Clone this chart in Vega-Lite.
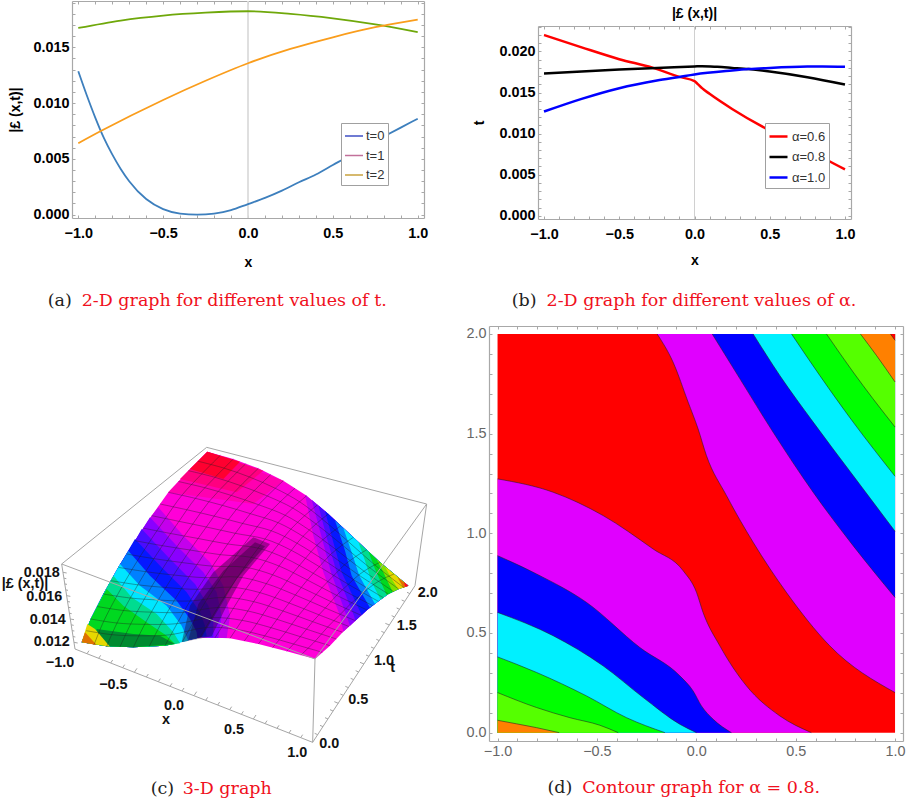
{
"$schema":"https://vega.github.io/schema/vega-lite/v6.json",
"padding":{"left":1,"top":-6,"right":0,"bottom":0},
"background":"white",
"config":{
 "font":"Liberation Sans",
 "view":{"stroke":null},
 "axis":{"grid":false,"domainColor":"#a8a8a8","tickColor":"#a8a8a8","domainWidth":1.2,"tickWidth":1,"labelFontSize":14.4,"labelFontWeight":"bold","labelColor":"#000","labelFont":"Liberation Sans","labelOverlap":false,"labelFlush":false,"labelBound":false,"titleFontSize":14,"titleFontWeight":"bold","titleColor":"#000","titleFont":"Liberation Sans"}
},
"bounds":"flush",
"spacing":325,
"resolve":{"scale":{"color":"independent","stroke":"independent","fill":"independent"},"legend":{"color":"independent","stroke":"independent","fill":"independent"}},
"vconcat":[
{"hconcat":[
{"width":352,"height":217,
 "resolve":{"axis":{"x":"independent","y":"independent"}},
 "encoding":{"x":{"field":"x","type":"quantitative","scale":{"domain":[-1.037,1.037],"nice":false,"zero":false},"axis":null},"y":{"field":"y","type":"quantitative","scale":{"domain":[-0.0003,0.01915],"nice":false,"zero":false},"axis":null}},
 "layer":[
 {"data":{"values":[]},"mark":"line","encoding":{
  "x":{"field":"x","type":"quantitative","scale":{"domain":[-1.037,1.037],"nice":false,"zero":false},"axis":{"orient":"bottom","title":"x","titlePadding":16,"labelPadding":11,"values":[-1,-0.9,-0.8,-0.7,-0.6,-0.5,-0.4,-0.3,-0.2,-0.1,0,0.1,0.2,0.3,0.4,0.5,0.6,0.7,0.8,0.9,1],"labelExpr":"abs(datum.value*2-round(datum.value*2))<1e-6 ? format(datum.value,'.1f') : ''","tickSize":-3}},
  "y":{"field":"y","type":"quantitative","scale":{"domain":[-0.0003,0.01915],"nice":false,"zero":false},"axis":{"orient":"left","title":"|£ (x,t)|","titlePadding":10,"labelPadding":6,"values":[0,0.001,0.002,0.003,0.004,0.005,0.006,0.007,0.008,0.009,0.01,0.011,0.012,0.013,0.014,0.015,0.016,0.017,0.018,0.019],"labelExpr":"abs(datum.value*200-round(datum.value*200))<1e-6 ? format(datum.value,'.3f') : ''","tickSize":-3}}}},
 {"data":{"values":[]},"mark":"line","encoding":{
  "x":{"field":"x","type":"quantitative","scale":{"domain":[-1.037,1.037],"nice":false,"zero":false},"axis":{"orient":"top","title":null,"labels":false,"values":[-1,-0.9,-0.8,-0.7,-0.6,-0.5,-0.4,-0.3,-0.2,-0.1,0,0.1,0.2,0.3,0.4,0.5,0.6,0.7,0.8,0.9,1],"tickSize":-3}},
  "y":{"field":"y","type":"quantitative","scale":{"domain":[-0.0003,0.01915],"nice":false,"zero":false},"axis":{"orient":"right","title":null,"labels":false,"values":[0,0.001,0.002,0.003,0.004,0.005,0.006,0.007,0.008,0.009,0.01,0.011,0.012,0.013,0.014,0.015,0.016,0.017,0.018,0.019],"tickSize":-3}}}},
 {"data":{"values":[{"x":0,"y":-0.0003,"y2":0.01915}]},"mark":{"type":"rule","color":"#dcdcdc","strokeWidth":1.8},"encoding":{"y2":{"field":"y2"}}},
 {"data":{"values":[
  {"s":"c0","x":-1,"y":0.01285},{"s":"c0","x":-0.95,"y":0.0107},{"s":"c0","x":-0.9,"y":0.0087},{"s":"c0","x":-0.85,"y":0.0069},{"s":"c0","x":-0.8,"y":0.0054},{"s":"c0","x":-0.75,"y":0.0041},{"s":"c0","x":-0.7,"y":0.003},{"s":"c0","x":-0.6,"y":0.0014},{"s":"c0","x":-0.5,"y":0.0005},{"s":"c0","x":-0.4,"y":0.0001},{"s":"c0","x":-0.3,"y":0},{"s":"c0","x":-0.2,"y":0.0001},{"s":"c0","x":-0.1,"y":0.0004},{"s":"c0","x":0,"y":0.00095},{"s":"c0","x":0.1,"y":0.0015},{"s":"c0","x":0.2,"y":0.00215},{"s":"c0","x":0.3,"y":0.0029},{"s":"c0","x":0.4,"y":0.0036},{"s":"c0","x":0.5,"y":0.00445},{"s":"c0","x":0.6,"y":0.0053},{"s":"c0","x":0.7,"y":0.0062},{"s":"c0","x":0.8,"y":0.007},{"s":"c0","x":0.9,"y":0.0078},{"s":"c0","x":1,"y":0.0086},
  {"s":"c1","x":-1,"y":0.01673},{"s":"c1","x":-0.75,"y":0.0174},{"s":"c1","x":-0.5,"y":0.01784},{"s":"c1","x":-0.25,"y":0.0181},{"s":"c1","x":0,"y":0.01823},{"s":"c1","x":0.25,"y":0.018},{"s":"c1","x":0.5,"y":0.0176},{"s":"c1","x":0.75,"y":0.01706},{"s":"c1","x":1,"y":0.01637},
  {"s":"c2","x":-1,"y":0.0064},{"s":"c2","x":-0.87,"y":0.00747},{"s":"c2","x":-0.5,"y":0.01028},{"s":"c2","x":-0.25,"y":0.012},{"s":"c2","x":0,"y":0.01357},{"s":"c2","x":0.25,"y":0.01485},{"s":"c2","x":0.5,"y":0.0159},{"s":"c2","x":0.75,"y":0.0168},{"s":"c2","x":0.82,"y":0.017},{"s":"c2","x":1,"y":0.01748}
 ]},"mark":{"type":"line","strokeWidth":1.8,"interpolate":"monotone"},"encoding":{"stroke":{"field":"s","type":"nominal","scale":{"domain":["c0","c1","c2"],"range":["#3d7fbd","#6fa80a","#fa9d1c"]},"legend":null}}},
 {"data":{"values":[]},"mark":{"type":"line"},"encoding":{"color":{"field":"s","type":"nominal","scale":{"domain":["t=0","t=1","t=2"],"range":["#3f4fc4","#c2709a","#c9a23e"]},"legend":{"title":null,"orient":"none","legendX":269,"legendY":122,"direction":"vertical","symbolType":"stroke","symbolSize":324,"symbolStrokeWidth":1.5,"labelFontSize":13,"labelColor":"#333","labelOffset":2,"rowPadding":2.5,"padding":3,"fillColor":"white","strokeColor":"#a0a0a0"}}}},
 {"data":{"values":[{"x":-1.18,"y":-0.00773,"text":"(a)"}]},"mark":{"type":"text","align":"left","font":"DejaVu Serif","fontSize":17.5,"color":"#222"},"encoding":{"text":{"field":"text"}}},
 {"data":{"values":[{"x":-0.98,"y":-0.00773,"text":"2-D graph for different values of t."}]},"mark":{"type":"text","align":"left","font":"DejaVu Serif","fontSize":17.5,"color":"#f01020"},"encoding":{"text":{"field":"text"}}}
 ]},
{"bounds":"flush","spacing":24,
 "resolve":{"scale":{"color":"independent","stroke":"independent","fill":"independent"},"legend":{"color":"independent","stroke":"independent","fill":"independent"}},
 "vconcat":[
{"width":1,"height":1,"data":{"values":[{"a":1}]},"mark":{"type":"text","text":" "}},
{"width":313,"height":193,
 "title":{"text":"|£ (x,t)|","fontSize":14,"fontWeight":"bold","color":"#000","offset":-2,"font":"Liberation Sans"},
 "resolve":{"axis":{"x":"independent","y":"independent"}},
 "encoding":{"x":{"field":"x","type":"quantitative","scale":{"domain":[-1.04,1.04],"nice":false,"zero":false},"axis":null},"y":{"field":"y","type":"quantitative","scale":{"domain":[-0.0004,0.0231],"nice":false,"zero":false},"axis":null}},
 "layer":[
 {"data":{"values":[]},"mark":"line","encoding":{
  "x":{"field":"x","type":"quantitative","scale":{"domain":[-1.04,1.04],"nice":false,"zero":false},"axis":{"orient":"bottom","title":"x","titlePadding":13,"labelPadding":11,"values":[-1,-0.9,-0.8,-0.7,-0.6,-0.5,-0.4,-0.3,-0.2,-0.1,0,0.1,0.2,0.3,0.4,0.5,0.6,0.7,0.8,0.9,1],"labelExpr":"abs(datum.value*2-round(datum.value*2))<1e-6 ? format(datum.value,'.1f') : ''","tickSize":-3}},
  "y":{"field":"y","type":"quantitative","scale":{"domain":[-0.0004,0.0231],"nice":false,"zero":false},"axis":{"orient":"left","title":"t","titlePadding":12,"labelPadding":6,"values":[0,0.001,0.002,0.003,0.004,0.005,0.006,0.007,0.008,0.009,0.01,0.011,0.012,0.013,0.014,0.015,0.016,0.017,0.018,0.019,0.02,0.021,0.022,0.023],"labelExpr":"abs(datum.value*200-round(datum.value*200))<1e-6 ? format(datum.value,'.3f') : ''","tickSize":-3}}}},
 {"data":{"values":[]},"mark":"line","encoding":{
  "x":{"field":"x","type":"quantitative","scale":{"domain":[-1.04,1.04],"nice":false,"zero":false},"axis":{"orient":"top","title":null,"labels":false,"values":[-1,-0.9,-0.8,-0.7,-0.6,-0.5,-0.4,-0.3,-0.2,-0.1,0,0.1,0.2,0.3,0.4,0.5,0.6,0.7,0.8,0.9,1],"tickSize":-3}},
  "y":{"field":"y","type":"quantitative","scale":{"domain":[-0.0004,0.0231],"nice":false,"zero":false},"axis":{"orient":"right","title":null,"labels":false,"values":[0,0.001,0.002,0.003,0.004,0.005,0.006,0.007,0.008,0.009,0.01,0.011,0.012,0.013,0.014,0.015,0.016,0.017,0.018,0.019,0.02,0.021,0.022,0.023],"tickSize":-3}}}},
 {"data":{"values":[{"x":0,"y":-0.0004,"y2":0.0231}]},"mark":{"type":"rule","color":"#d0d0d0","strokeWidth":1},"encoding":{"y2":{"field":"y2"}}},
 {"data":{"values":[
  {"s":"a6","x":-1,"y":0.022},{"s":"a6","x":-0.75,"y":0.0205},{"s":"a6","x":-0.5,"y":0.01906},{"s":"a6","x":-0.275,"y":0.018},{"s":"a6","x":-0.1,"y":0.0169},{"s":"a6","x":0,"y":0.01638},{"s":"a6","x":0.02,"y":0.01606},{"s":"a6","x":0.05,"y":0.01553},{"s":"a6","x":0.1,"y":0.01484},{"s":"a6","x":0.25,"y":0.013},{"s":"a6","x":0.5,"y":0.01037},{"s":"a6","x":0.75,"y":0.0082},{"s":"a6","x":0.86,"y":0.007},{"s":"a6","x":1,"y":0.00565},
  {"s":"a8","x":-1,"y":0.01732},{"s":"a8","x":-0.5,"y":0.0178},{"s":"a8","x":-0.25,"y":0.018},{"s":"a8","x":0,"y":0.01817},{"s":"a8","x":0.05,"y":0.01821},{"s":"a8","x":0.15,"y":0.01813},{"s":"a8","x":0.25,"y":0.018},{"s":"a8","x":0.36,"y":0.01785},{"s":"a8","x":0.5,"y":0.01756},{"s":"a8","x":0.75,"y":0.01687},{"s":"a8","x":1,"y":0.01598},
  {"s":"a10","x":-1,"y":0.01268},{"s":"a10","x":-0.75,"y":0.01423},{"s":"a10","x":-0.5,"y":0.01553},{"s":"a10","x":-0.25,"y":0.01646},{"s":"a10","x":-0.1,"y":0.0169},{"s":"a10","x":0,"y":0.0172},{"s":"a10","x":0.25,"y":0.01768},{"s":"a10","x":0.36,"y":0.01785},{"s":"a10","x":0.5,"y":0.018},{"s":"a10","x":0.75,"y":0.01817},{"s":"a10","x":0.85,"y":0.01818},{"s":"a10","x":1,"y":0.01813}
 ]},"mark":{"type":"line","strokeWidth":2.5,"interpolate":"monotone"},"encoding":{"stroke":{"field":"s","type":"nominal","scale":{"domain":["a6","a8","a10"],"range":["#ff0000","#000000","#0000ff"]},"legend":null}}},
 {"data":{"values":[]},"mark":{"type":"line"},"encoding":{"color":{"field":"s","type":"nominal","scale":{"domain":["α=0.6","α=0.8","α=1.0"],"range":["#ff0000","#000000","#0000ff"]},"legend":{"title":null,"orient":"none","legendX":227,"legendY":97,"direction":"vertical","symbolType":"stroke","symbolSize":324,"symbolStrokeWidth":2.5,"labelFontSize":13,"labelColor":"#333","labelOffset":3,"rowPadding":2.5,"padding":3,"fillColor":"white","strokeColor":"#a0a0a0"}}}},
 {"data":{"values":[{"x":-1.215,"y":-0.0104,"text":"(b)"}]},"mark":{"type":"text","align":"left","font":"DejaVu Serif","fontSize":17.5,"color":"#222"},"encoding":{"text":{"field":"text"}}},
 {"data":{"values":[{"x":-0.983,"y":-0.0104,"text":"2-D graph for different values of α."}]},"mark":{"type":"text","align":"left","font":"DejaVu Serif","fontSize":17.5,"color":"#f01020"},"encoding":{"text":{"field":"text"}}}
 ]}
]}
],"spacing":114,"bounds":"flush",
 "resolve":{"scale":{"color":"independent","stroke":"independent","fill":"independent"},"legend":{"color":"independent","stroke":"independent","fill":"independent"}}},
{"hconcat":[
{"width":352,"height":475,
 "encoding":{"x":{"field":"u","type":"quantitative","scale":{"domain":[216,1272],"nice":false,"zero":false},"axis":null},"y":{"field":"v","type":"quantitative","scale":{"domain":[1116,-309],"nice":false,"zero":false},"axis":null}},
 "layer":[
 {"data":{"values":[
  {"p":"s","b":"mag","u":245,"v":640},{"p":"s","b":"mag","u":320,"v":652},{"p":"s","b":"mag","u":400,"v":655},{"p":"s","b":"mag","u":495,"v":650},{"p":"s","b":"mag","u":600,"v":625},{"p":"s","b":"mag","u":690,"v":628},{"p":"s","b":"mag","u":775,"v":645},{"p":"s","b":"mag","u":860,"v":667},{"p":"s","b":"mag","u":945,"v":690},{"p":"s","b":"mag","u":990,"v":650},{"p":"s","b":"mag","u":1028,"v":610},{"p":"s","b":"mag","u":1066,"v":575},{"p":"s","b":"mag","u":1101,"v":543},{"p":"s","b":"mag","u":1135,"v":517},{"p":"s","b":"mag","u":1165,"v":495},{"p":"s","b":"mag","u":1196,"v":480},{"p":"s","b":"mag","u":1225,"v":470},{"p":"s","b":"mag","u":1140,"v":400},{"p":"s","b":"mag","u":1060,"v":325},{"p":"s","b":"mag","u":985,"v":255},{"p":"s","b":"mag","u":920,"v":200},{"p":"s","b":"mag","u":850,"v":155},{"p":"s","b":"mag","u":775,"v":118},{"p":"s","b":"mag","u":700,"v":90},{"p":"s","b":"mag","u":622,"v":68},{"p":"s","b":"mag","u":565,"v":125},{"p":"s","b":"mag","u":505,"v":190},{"p":"s","b":"mag","u":455,"v":260},{"p":"s","b":"mag","u":405,"v":335},{"p":"s","b":"mag","u":355,"v":415},{"p":"s","b":"mag","u":310,"v":495},{"p":"s","b":"mag","u":272,"v":570},
  {"p":"r0","b":"rose0","u":622,"v":68},{"p":"r0","b":"rose0","u":850,"v":155},{"p":"r0","b":"rose0","u":760,"v":225},{"p":"r0","b":"rose0","u":505,"v":190},
  {"p":"r1","b":"rose","u":622,"v":68},{"p":"r1","b":"rose","u":790,"v":125},{"p":"r1","b":"rose","u":710,"v":190},{"p":"r1","b":"rose","u":540,"v":150},
  {"p":"r2","b":"red","u":622,"v":68},{"p":"r2","b":"red","u":720,"v":98},{"p":"r2","b":"red","u":670,"v":150},{"p":"r2","b":"red","u":570,"v":120},
  {"p":"l0","b":"mp","u":475,"v":235},{"p":"l0","b":"mp","u":550,"v":320},{"p":"l0","b":"mp","u":630,"v":400},{"p":"l0","b":"mp","u":670,"v":470},{"p":"l0","b":"mp","u":690,"v":560},{"p":"l0","b":"mp","u":680,"v":627},{"p":"l0","b":"mp","u":600,"v":625},{"p":"l0","b":"mp","u":495,"v":650},{"p":"l0","b":"mp","u":400,"v":655},{"p":"l0","b":"mp","u":320,"v":652},{"p":"l0","b":"mp","u":245,"v":640},{"p":"l0","b":"mp","u":272,"v":570},{"p":"l0","b":"mp","u":310,"v":495},{"p":"l0","b":"mp","u":355,"v":415},{"p":"l0","b":"mp","u":405,"v":335},{"p":"l0","b":"mp","u":455,"v":260},
  {"p":"l1","b":"pur","u":450,"v":265},{"p":"l1","b":"pur","u":530,"v":350},{"p":"l1","b":"pur","u":610,"v":430},{"p":"l1","b":"pur","u":650,"v":490},{"p":"l1","b":"pur","u":665,"v":560},{"p":"l1","b":"pur","u":655,"v":627},{"p":"l1","b":"pur","u":600,"v":625},{"p":"l1","b":"pur","u":495,"v":650},{"p":"l1","b":"pur","u":400,"v":655},{"p":"l1","b":"pur","u":320,"v":652},{"p":"l1","b":"pur","u":245,"v":640},{"p":"l1","b":"pur","u":272,"v":570},{"p":"l1","b":"pur","u":310,"v":495},{"p":"l1","b":"pur","u":355,"v":415},{"p":"l1","b":"pur","u":405,"v":335},
  {"p":"l1b","b":"pb","u":425,"v":300},{"p":"l1b","b":"pb","u":505,"v":385},{"p":"l1b","b":"pb","u":585,"v":465},{"p":"l1b","b":"pb","u":625,"v":530},{"p":"l1b","b":"pb","u":640,"v":580},{"p":"l1b","b":"pb","u":640,"v":625},{"p":"l1b","b":"pb","u":600,"v":625},{"p":"l1b","b":"pb","u":495,"v":650},{"p":"l1b","b":"pb","u":400,"v":655},{"p":"l1b","b":"pb","u":320,"v":652},{"p":"l1b","b":"pb","u":245,"v":640},{"p":"l1b","b":"pb","u":272,"v":570},{"p":"l1b","b":"pb","u":310,"v":495},{"p":"l1b","b":"pb","u":355,"v":415},{"p":"l1b","b":"pb","u":405,"v":335},
  {"p":"l2","b":"blu","u":405,"v":330},{"p":"l2","b":"blu","u":480,"v":410},{"p":"l2","b":"blu","u":560,"v":490},{"p":"l2","b":"blu","u":600,"v":550},{"p":"l2","b":"blu","u":615,"v":590},{"p":"l2","b":"blu","u":620,"v":622},{"p":"l2","b":"blu","u":600,"v":625},{"p":"l2","b":"blu","u":495,"v":650},{"p":"l2","b":"blu","u":400,"v":655},{"p":"l2","b":"blu","u":320,"v":652},{"p":"l2","b":"blu","u":245,"v":640},{"p":"l2","b":"blu","u":272,"v":570},{"p":"l2","b":"blu","u":310,"v":495},{"p":"l2","b":"blu","u":355,"v":415},
  {"p":"l2b","b":"bc","u":385,"v":365},{"p":"l2b","b":"bc","u":450,"v":440},{"p":"l2b","b":"bc","u":530,"v":515},{"p":"l2b","b":"bc","u":570,"v":570},{"p":"l2b","b":"bc","u":590,"v":610},{"p":"l2b","b":"bc","u":592,"v":628},{"p":"l2b","b":"bc","u":495,"v":650},{"p":"l2b","b":"bc","u":400,"v":655},{"p":"l2b","b":"bc","u":320,"v":652},{"p":"l2b","b":"bc","u":245,"v":640},{"p":"l2b","b":"bc","u":272,"v":570},{"p":"l2b","b":"bc","u":310,"v":495},{"p":"l2b","b":"bc","u":355,"v":415},
  {"p":"l3","b":"cya","u":360,"v":405},{"p":"l3","b":"cya","u":420,"v":470},{"p":"l3","b":"cya","u":500,"v":530},{"p":"l3","b":"cya","u":545,"v":590},{"p":"l3","b":"cya","u":565,"v":635},{"p":"l3","b":"cya","u":495,"v":650},{"p":"l3","b":"cya","u":400,"v":655},{"p":"l3","b":"cya","u":320,"v":652},{"p":"l3","b":"cya","u":245,"v":640},{"p":"l3","b":"cya","u":272,"v":570},{"p":"l3","b":"cya","u":310,"v":495},
  {"p":"l3b","b":"cg","u":340,"v":440},{"p":"l3b","b":"cg","u":395,"v":505},{"p":"l3b","b":"cg","u":470,"v":555},{"p":"l3b","b":"cg","u":520,"v":610},{"p":"l3b","b":"cg","u":540,"v":643},{"p":"l3b","b":"cg","u":495,"v":650},{"p":"l3b","b":"cg","u":400,"v":655},{"p":"l3b","b":"cg","u":320,"v":652},{"p":"l3b","b":"cg","u":245,"v":640},{"p":"l3b","b":"cg","u":272,"v":570},{"p":"l3b","b":"cg","u":310,"v":495},
  {"p":"l4","b":"gre","u":320,"v":480},{"p":"l4","b":"gre","u":370,"v":530},{"p":"l4","b":"gre","u":440,"v":580},{"p":"l4","b":"gre","u":500,"v":620},{"p":"l4","b":"gre","u":525,"v":645},{"p":"l4","b":"gre","u":495,"v":650},{"p":"l4","b":"gre","u":400,"v":655},{"p":"l4","b":"gre","u":320,"v":652},{"p":"l4","b":"gre","u":245,"v":640},{"p":"l4","b":"gre","u":272,"v":570},
  {"p":"l5","b":"dkg","u":290,"v":600},{"p":"l5","b":"dkg","u":400,"v":615},{"p":"l5","b":"dkg","u":480,"v":620},{"p":"l5","b":"dkg","u":525,"v":645},{"p":"l5","b":"dkg","u":400,"v":655},{"p":"l5","b":"dkg","u":320,"v":652},{"p":"l5","b":"dkg","u":290,"v":645},
  {"p":"l6","b":"yel","u":262,"v":585},{"p":"l6","b":"yel","u":285,"v":600},{"p":"l6","b":"yel","u":330,"v":653},{"p":"l6","b":"yel","u":245,"v":640},
  {"p":"l7","b":"ora","u":255,"v":610},{"p":"l7","b":"ora","u":290,"v":648},{"p":"l7","b":"ora","u":245,"v":640},
  {"p":"c0","b":"mp","u":915,"v":197},{"p":"c0","b":"mp","u":940,"v":320},{"p":"c0","b":"mp","u":970,"v":430},{"p":"c0","b":"mp","u":1020,"v":560},{"p":"c0","b":"mp","u":1030,"v":608},{"p":"c0","b":"mp","u":1066,"v":575},{"p":"c0","b":"mp","u":1101,"v":543},{"p":"c0","b":"mp","u":1135,"v":517},{"p":"c0","b":"mp","u":1165,"v":495},{"p":"c0","b":"mp","u":1196,"v":480},{"p":"c0","b":"mp","u":1225,"v":470},{"p":"c0","b":"mp","u":1140,"v":400},{"p":"c0","b":"mp","u":1060,"v":325},{"p":"c0","b":"mp","u":985,"v":255},
  {"p":"c1","b":"pur","u":935,"v":212},{"p":"c1","b":"pur","u":965,"v":325},{"p":"c1","b":"pur","u":993,"v":430},{"p":"c1","b":"pur","u":1050,"v":590},{"p":"c1","b":"pur","u":1066,"v":575},{"p":"c1","b":"pur","u":1101,"v":543},{"p":"c1","b":"pur","u":1135,"v":517},{"p":"c1","b":"pur","u":1165,"v":495},{"p":"c1","b":"pur","u":1196,"v":480},{"p":"c1","b":"pur","u":1225,"v":470},{"p":"c1","b":"pur","u":1140,"v":400},{"p":"c1","b":"pur","u":1060,"v":325},{"p":"c1","b":"pur","u":985,"v":255},
  {"p":"c1b","b":"pb","u":955,"v":229},{"p":"c1b","b":"pb","u":982,"v":332},{"p":"c1b","b":"pb","u":1010,"v":430},{"p":"c1b","b":"pb","u":1062,"v":560},{"p":"c1b","b":"pb","u":1066,"v":575},{"p":"c1b","b":"pb","u":1101,"v":543},{"p":"c1b","b":"pb","u":1135,"v":517},{"p":"c1b","b":"pb","u":1165,"v":495},{"p":"c1b","b":"pb","u":1196,"v":480},{"p":"c1b","b":"pb","u":1225,"v":470},{"p":"c1b","b":"pb","u":1140,"v":400},{"p":"c1b","b":"pb","u":1060,"v":325},{"p":"c1b","b":"pb","u":985,"v":255},
  {"p":"c2","b":"blu","u":975,"v":246},{"p":"c2","b":"blu","u":1000,"v":340},{"p":"c2","b":"blu","u":1025,"v":430},{"p":"c2","b":"blu","u":1085,"v":558},{"p":"c2","b":"blu","u":1101,"v":543},{"p":"c2","b":"blu","u":1135,"v":517},{"p":"c2","b":"blu","u":1165,"v":495},{"p":"c2","b":"blu","u":1196,"v":480},{"p":"c2","b":"blu","u":1225,"v":470},{"p":"c2","b":"blu","u":1140,"v":400},{"p":"c2","b":"blu","u":1060,"v":325},{"p":"c2","b":"blu","u":985,"v":255},
  {"p":"c2b","b":"bc","u":1005,"v":274},{"p":"c2b","b":"bc","u":1035,"v":365},{"p":"c2b","b":"bc","u":1055,"v":440},{"p":"c2b","b":"bc","u":1110,"v":536},{"p":"c2b","b":"bc","u":1135,"v":517},{"p":"c2b","b":"bc","u":1165,"v":495},{"p":"c2b","b":"bc","u":1196,"v":480},{"p":"c2b","b":"bc","u":1225,"v":470},{"p":"c2b","b":"bc","u":1140,"v":400},{"p":"c2b","b":"bc","u":1060,"v":325},
  {"p":"c3","b":"cya","u":1030,"v":297},{"p":"c3","b":"cya","u":1055,"v":370},{"p":"c3","b":"cya","u":1078,"v":440},{"p":"c3","b":"cya","u":1125,"v":525},{"p":"c3","b":"cya","u":1135,"v":517},{"p":"c3","b":"cya","u":1165,"v":495},{"p":"c3","b":"cya","u":1196,"v":480},{"p":"c3","b":"cya","u":1225,"v":470},{"p":"c3","b":"cya","u":1140,"v":400},{"p":"c3","b":"cya","u":1060,"v":325},
  {"p":"c3b","b":"cg","u":1075,"v":339},{"p":"c3b","b":"cg","u":1095,"v":395},{"p":"c3b","b":"cg","u":1115,"v":460},{"p":"c3b","b":"cg","u":1142,"v":512},{"p":"c3b","b":"cg","u":1165,"v":495},{"p":"c3b","b":"cg","u":1196,"v":480},{"p":"c3b","b":"cg","u":1225,"v":470},{"p":"c3b","b":"cg","u":1140,"v":400},
  {"p":"c4","b":"gre","u":1105,"v":367},{"p":"c4","b":"gre","u":1125,"v":420},{"p":"c4","b":"gre","u":1160,"v":498},{"p":"c4","b":"gre","u":1196,"v":480},{"p":"c4","b":"gre","u":1225,"v":470},{"p":"c4","b":"gre","u":1140,"v":400},
  {"p":"c4b","b":"yg","u":1130,"v":391},{"p":"c4b","b":"yg","u":1150,"v":430},{"p":"c4b","b":"yg","u":1178,"v":489},{"p":"c4b","b":"yg","u":1196,"v":480},{"p":"c4b","b":"yg","u":1225,"v":470},{"p":"c4b","b":"yg","u":1140,"v":400},
  {"p":"c5","b":"yel","u":1155,"v":413},{"p":"c5","b":"yel","u":1175,"v":450},{"p":"c5","b":"yel","u":1195,"v":481},{"p":"c5","b":"yel","u":1225,"v":470},
  {"p":"c6","b":"ora","u":1192,"v":444},{"p":"c6","b":"ora","u":1210,"v":476},{"p":"c6","b":"ora","u":1225,"v":470},
  {"p":"c7","b":"red","u":1212,"v":459},{"p":"c7","b":"red","u":1216,"v":474},{"p":"c7","b":"red","u":1225,"v":470}
 ]},"mark":{"type":"line","stroke":null,"strokeWidth":0},"encoding":{"order":{"value":null},"detail":{"field":"p"},"fill":{"field":"b","type":"nominal","legend":null,"scale":{"domain":["mag","rose0","rose","red","mp","pur","pb","blu","bc","cya","cg","gre","dkg","yg","yel","ora"],"range":["#ff00d8","#ff00b0","#ff0080","#ff0030","#c400ec","#8a00ff","#4a0cff","#0618ff","#0080ff","#00e6ff","#00dc90","#00d820","#008a30","#80e000","#e6d800","#e07000"]}}}},
 {"data":{"values":[
  {"p":"d1","u":760,"v":325},{"p":"d1","u":810,"v":345},{"p":"d1","u":730,"v":440},{"p":"d1","u":680,"v":530},{"p":"d1","u":635,"v":622},{"p":"d1","u":545,"v":640},{"p":"d1","u":570,"v":530},{"p":"d1","u":640,"v":430},
  {"p":"d2","u":765,"v":340},{"p":"d2","u":795,"v":352},{"p":"d2","u":710,"v":450},{"p":"d2","u":650,"v":550},{"p":"d2","u":605,"v":625},{"p":"d2","u":565,"v":632},{"p":"d2","u":595,"v":525},{"p":"d2","u":670,"v":425}
 ]},"mark":{"type":"line","stroke":null,"strokeWidth":0,"fill":"#200030","fillOpacity":0.4},"encoding":{"order":{"value":null},"detail":{"field":"p"}}},
 {"data":{"values":[
  {"m":"r1","u":258.5,"v":605},{"m":"r1","u":335.5,"v":617},{"m":"r1","u":417,"v":620.5},{"m":"r1","u":513,"v":617},{"m":"r1","u":617.5,"v":595.5},{"m":"r1","u":708,"v":601},{"m":"r1","u":794,"v":620.5},{"m":"r1","u":880.5,"v":645},{"m":"r1","u":967.5,"v":670},
  {"m":"r2","u":272,"v":570},{"m":"r2","u":351,"v":582},{"m":"r2","u":434,"v":586},{"m":"r2","u":531,"v":584},{"m":"r2","u":635,"v":566},{"m":"r2","u":726,"v":574},{"m":"r2","u":813,"v":596},{"m":"r2","u":901,"v":623},{"m":"r2","u":990,"v":650},
  {"m":"r3","u":291,"v":532.5},{"m":"r3","u":371,"v":544.5},{"m":"r3","u":454.5,"v":549.5},{"m":"r3","u":550.5,"v":550},{"m":"r3","u":653.5,"v":535.5},{"m":"r3","u":743.5,"v":546},{"m":"r3","u":831,"v":571},{"m":"r3","u":919.5,"v":600.5},{"m":"r3","u":1009,"v":630},
  {"m":"r4","u":310,"v":495},{"m":"r4","u":391,"v":507},{"m":"r4","u":475,"v":513},{"m":"r4","u":570,"v":516},{"m":"r4","u":672,"v":505},{"m":"r4","u":761,"v":518},{"m":"r4","u":849,"v":546},{"m":"r4","u":938,"v":578},{"m":"r4","u":1028,"v":610},
  {"m":"r5","u":332.5,"v":455},{"m":"r5","u":414,"v":467.5},{"m":"r5","u":498,"v":475.5},{"m":"r5","u":592.5,"v":481},{"m":"r5","u":692.5,"v":474.5},{"m":"r5","u":780,"v":491},{"m":"r5","u":867.5,"v":522},{"m":"r5","u":957,"v":557.5},{"m":"r5","u":1047,"v":592.5},
  {"m":"r6","u":355,"v":415},{"m":"r6","u":437,"v":428},{"m":"r6","u":521,"v":438},{"m":"r6","u":615,"v":446},{"m":"r6","u":713,"v":444},{"m":"r6","u":799,"v":464},{"m":"r6","u":886,"v":498},{"m":"r6","u":976,"v":537},{"m":"r6","u":1066,"v":575},
  {"m":"r7","u":380,"v":375},{"m":"r7","u":462,"v":389},{"m":"r7","u":545.5,"v":400.5},{"m":"r7","u":638,"v":411.5},{"m":"r7","u":733.5,"v":414.5},{"m":"r7","u":818,"v":437.5},{"m":"r7","u":904,"v":475.5},{"m":"r7","u":993,"v":518},{"m":"r7","u":1083.5,"v":559},
  {"m":"r8","u":405,"v":335},{"m":"r8","u":487,"v":350},{"m":"r8","u":570,"v":363},{"m":"r8","u":661,"v":377},{"m":"r8","u":754,"v":385},{"m":"r8","u":837,"v":411},{"m":"r8","u":922,"v":453},{"m":"r8","u":1010,"v":499},{"m":"r8","u":1101,"v":543},
  {"m":"r9","u":430,"v":297.5},{"m":"r9","u":512,"v":313.5},{"m":"r9","u":594.5,"v":328.5},{"m":"r9","u":683.5,"v":345},{"m":"r9","u":774.5,"v":357.5},{"m":"r9","u":855.5,"v":387.5},{"m":"r9","u":940,"v":433},{"m":"r9","u":1027.5,"v":482.5},{"m":"r9","u":1118,"v":530},
  {"m":"r10","u":455,"v":260},{"m":"r10","u":537,"v":277},{"m":"r10","u":619,"v":294},{"m":"r10","u":706,"v":313},{"m":"r10","u":795,"v":330},{"m":"r10","u":874,"v":364},{"m":"r10","u":958,"v":413},{"m":"r10","u":1045,"v":466},{"m":"r10","u":1135,"v":517},
  {"m":"r11","u":480,"v":225},{"m":"r11","u":561.5,"v":242.5},{"m":"r11","u":643,"v":261.5},{"m":"r11","u":728.5,"v":283.5},{"m":"r11","u":814.5,"v":305.5},{"m":"r11","u":891.5,"v":343},{"m":"r11","u":974.5,"v":395},{"m":"r11","u":1060.5,"v":452},{"m":"r11","u":1150,"v":506},
  {"m":"r12","u":505,"v":190},{"m":"r12","u":586,"v":208},{"m":"r12","u":667,"v":229},{"m":"r12","u":751,"v":254},{"m":"r12","u":834,"v":281},{"m":"r12","u":909,"v":322},{"m":"r12","u":991,"v":377},{"m":"r12","u":1076,"v":438},{"m":"r12","u":1165,"v":495},
  {"m":"r13","u":535,"v":157.5},{"m":"r13","u":615.5,"v":176.5},{"m":"r13","u":694.5,"v":199.5},{"m":"r13","u":776.5,"v":227.5},{"m":"r13","u":856,"v":259},{"m":"r13","u":928.5,"v":303.5},{"m":"r13","u":1009,"v":362.5},{"m":"r13","u":1092.5,"v":427},{"m":"r13","u":1180.5,"v":487.5},
  {"m":"r14","u":565,"v":125},{"m":"r14","u":645,"v":145},{"m":"r14","u":722,"v":170},{"m":"r14","u":802,"v":201},{"m":"r14","u":878,"v":237},{"m":"r14","u":948,"v":285},{"m":"r14","u":1027,"v":348},{"m":"r14","u":1109,"v":416},{"m":"r14","u":1196,"v":480},
  {"m":"r15","u":593.5,"v":96.5},{"m":"r15","u":672.5,"v":117.5},{"m":"r15","u":748.5,"v":144},{"m":"r15","u":826,"v":178},{"m":"r15","u":899,"v":218.5},{"m":"r15","u":966.5,"v":270},{"m":"r15","u":1043.5,"v":336.5},{"m":"r15","u":1124.5,"v":408},{"m":"r15","u":1210.5,"v":475},
  {"m":"s1","u":282.5,"v":646},{"m":"s1","u":311.5,"v":576},{"m":"s1","u":350.5,"v":501},{"m":"s1","u":396,"v":421.5},{"m":"s1","u":446,"v":342.5},{"m":"s1","u":496,"v":268.5},{"m":"s1","u":545.5,"v":199},{"m":"s1","u":605,"v":135},{"m":"s1","u":661,"v":79},
  {"m":"s2","u":320,"v":652},{"m":"s2","u":351,"v":582},{"m":"s2","u":391,"v":507},{"m":"s2","u":437,"v":428},{"m":"s2","u":487,"v":350},{"m":"s2","u":537,"v":277},{"m":"s2","u":586,"v":208},{"m":"s2","u":645,"v":145},{"m":"s2","u":700,"v":90},
  {"m":"s3","u":360,"v":653.5},{"m":"s3","u":392.5,"v":584},{"m":"s3","u":433,"v":510},{"m":"s3","u":479,"v":433},{"m":"s3","u":528.5,"v":356.5},{"m":"s3","u":578,"v":285.5},{"m":"s3","u":626.5,"v":218.5},{"m":"s3","u":683.5,"v":157.5},{"m":"s3","u":737.5,"v":104},
  {"m":"s4","u":400,"v":655},{"m":"s4","u":434,"v":586},{"m":"s4","u":475,"v":513},{"m":"s4","u":521,"v":438},{"m":"s4","u":570,"v":363},{"m":"s4","u":619,"v":294},{"m":"s4","u":667,"v":229},{"m":"s4","u":722,"v":170},{"m":"s4","u":775,"v":118},
  {"m":"s5","u":447.5,"v":652.5},{"m":"s5","u":482.5,"v":585},{"m":"s5","u":522.5,"v":514.5},{"m":"s5","u":568,"v":442},{"m":"s5","u":615.5,"v":370},{"m":"s5","u":662.5,"v":303.5},{"m":"s5","u":709,"v":241.5},{"m":"s5","u":762,"v":185.5},{"m":"s5","u":812.5,"v":136.5},
  {"m":"s6","u":495,"v":650},{"m":"s6","u":531,"v":584},{"m":"s6","u":570,"v":516},{"m":"s6","u":615,"v":446},{"m":"s6","u":661,"v":377},{"m":"s6","u":706,"v":313},{"m":"s6","u":751,"v":254},{"m":"s6","u":802,"v":201},{"m":"s6","u":850,"v":155},
  {"m":"s7","u":547.5,"v":637.5},{"m":"s7","u":583,"v":575},{"m":"s7","u":621,"v":510.5},{"m":"s7","u":664,"v":445},{"m":"s7","u":707.5,"v":381},{"m":"s7","u":750.5,"v":321.5},{"m":"s7","u":792.5,"v":267.5},{"m":"s7","u":840,"v":219},{"m":"s7","u":885,"v":177.5},
  {"m":"s8","u":600,"v":625},{"m":"s8","u":635,"v":566},{"m":"s8","u":672,"v":505},{"m":"s8","u":713,"v":444},{"m":"s8","u":754,"v":385},{"m":"s8","u":795,"v":330},{"m":"s8","u":834,"v":281},{"m":"s8","u":878,"v":237},{"m":"s8","u":920,"v":200},
  {"m":"s9","u":645,"v":626.5},{"m":"s9","u":680.5,"v":570},{"m":"s9","u":716.5,"v":511.5},{"m":"s9","u":756,"v":454},{"m":"s9","u":795.5,"v":398},{"m":"s9","u":834.5,"v":347},{"m":"s9","u":871.5,"v":301.5},{"m":"s9","u":913,"v":261},{"m":"s9","u":952.5,"v":227.5},
  {"m":"s10","u":690,"v":628},{"m":"s10","u":726,"v":574},{"m":"s10","u":761,"v":518},{"m":"s10","u":799,"v":464},{"m":"s10","u":837,"v":411},{"m":"s10","u":874,"v":364},{"m":"s10","u":909,"v":322},{"m":"s10","u":948,"v":285},{"m":"s10","u":985,"v":255},
  {"m":"s11","u":732.5,"v":636.5},{"m":"s11","u":769.5,"v":585},{"m":"s11","u":805,"v":532},{"m":"s11","u":842.5,"v":481},{"m":"s11","u":879.5,"v":432},{"m":"s11","u":916,"v":388.5},{"m":"s11","u":950,"v":349.5},{"m":"s11","u":987.5,"v":316.5},{"m":"s11","u":1022.5,"v":290},
  {"m":"s12","u":775,"v":645},{"m":"s12","u":813,"v":596},{"m":"s12","u":849,"v":546},{"m":"s12","u":886,"v":498},{"m":"s12","u":922,"v":453},{"m":"s12","u":958,"v":413},{"m":"s12","u":991,"v":377},{"m":"s12","u":1027,"v":348},{"m":"s12","u":1060,"v":325},
  {"m":"s13","u":817.5,"v":656},{"m":"s13","u":857,"v":609.5},{"m":"s13","u":893.5,"v":562},{"m":"s13","u":931,"v":517.5},{"m":"s13","u":966,"v":476},{"m":"s13","u":1001.5,"v":439.5},{"m":"s13","u":1033.5,"v":407.5},{"m":"s13","u":1068,"v":382},{"m":"s13","u":1100,"v":362.5},
  {"m":"s14","u":860,"v":667},{"m":"s14","u":901,"v":623},{"m":"s14","u":938,"v":578},{"m":"s14","u":976,"v":537},{"m":"s14","u":1010,"v":499},{"m":"s14","u":1045,"v":466},{"m":"s14","u":1076,"v":438},{"m":"s14","u":1109,"v":416},{"m":"s14","u":1140,"v":400},
  {"m":"s15","u":902.5,"v":678.5},{"m":"s15","u":945.5,"v":636.5},{"m":"s15","u":983,"v":594},{"m":"s15","u":1021,"v":556},{"m":"s15","u":1055.5,"v":521},{"m":"s15","u":1090,"v":491.5},{"m":"s15","u":1120.5,"v":466.5},{"m":"s15","u":1152.5,"v":448},{"m":"s15","u":1182.5,"v":435}
 ]},"mark":{"type":"line","stroke":"#202020","strokeWidth":0.6,"strokeOpacity":0.65,"interpolate":"cardinal"},"encoding":{"order":{"value":null},"detail":{"field":"m"}}},
 {"data":{"values":[
  {"u":185,"v":405,"u2":620,"v2":55},{"u":620,"v":55,"u2":1280,"v2":225},{"u":1280,"v":225,"u2":945,"v2":690},{"u":945,"v":690,"u2":185,"v2":405},{"u":185,"v":405,"u2":225,"v2":660},{"u":945,"v":690,"u2":938,"v2":940},{"u":1280,"v":225,"u2":1245,"v2":470},{"u":225,"v":660,"u2":938,"v2":940},{"u":938,"v":940,"u2":1245,"v2":470},
  {"u":261,"v":674,"u2":267,"v2":665},{"u":296,"v":688,"u2":302,"v2":679},{"u":332,"v":702,"u2":338,"v2":693},{"u":368,"v":716,"u2":374,"v2":707},{"u":403,"v":730,"u2":411,"v2":718},{"u":439,"v":744,"u2":445,"v2":735},{"u":475,"v":758,"u2":481,"v2":749},{"u":510,"v":772,"u2":516,"v2":763},{"u":546,"v":786,"u2":552,"v2":777},{"u":582,"v":800,"u2":590,"v2":788},{"u":617,"v":814,"u2":623,"v2":805},{"u":653,"v":828,"u2":659,"v2":819},{"u":689,"v":842,"u2":695,"v2":833},{"u":724,"v":856,"u2":730,"v2":847},{"u":760,"v":870,"u2":768,"v2":858},{"u":795,"v":884,"u2":801,"v2":875},{"u":831,"v":898,"u2":837,"v2":889},{"u":867,"v":912,"u2":873,"v2":903},{"u":902,"v":926,"u2":908,"v2":917},
  {"u":953,"v":917,"u2":944,"v2":913},{"u":969,"v":893,"u2":960,"v2":889},{"u":984,"v":870,"u2":975,"v2":866},{"u":999,"v":846,"u2":990,"v2":842},{"u":1015,"v":823,"u2":1003,"v2":818},{"u":1030,"v":799,"u2":1021,"v2":795},{"u":1045,"v":776,"u2":1036,"v2":772},{"u":1061,"v":752,"u2":1052,"v2":748},{"u":1076,"v":729,"u2":1067,"v2":725},{"u":1092,"v":705,"u2":1080,"v2":700},{"u":1107,"v":682,"u2":1098,"v2":678},{"u":1122,"v":658,"u2":1113,"v2":654},{"u":1138,"v":635,"u2":1129,"v2":631},{"u":1153,"v":611,"u2":1144,"v2":607},{"u":1168,"v":588,"u2":1156,"v2":583},{"u":1184,"v":564,"u2":1175,"v2":560},{"u":1199,"v":541,"u2":1190,"v2":537},{"u":1214,"v":517,"u2":1205,"v2":513},{"u":1230,"v":494,"u2":1221,"v2":490},
  {"u":222,"v":640,"u2":233,"v2":642},{"u":219,"v":622.5,"u2":226,"v2":624},{"u":216,"v":605,"u2":223,"v2":606},{"u":214,"v":587.5,"u2":221,"v2":589},{"u":211,"v":570,"u2":222,"v2":572},{"u":208,"v":552.5,"u2":215,"v2":554},{"u":205,"v":535,"u2":212,"v2":536},{"u":203,"v":517.5,"u2":210,"v2":519},{"u":200,"v":500,"u2":211,"v2":502},{"u":197,"v":482.5,"u2":204,"v2":484},{"u":194,"v":465,"u2":201,"v2":466},{"u":192,"v":447.5,"u2":199,"v2":449},{"u":189,"v":430,"u2":200,"v2":432}
 ]},"mark":{"type":"rule","color":"#a6a6a6","strokeWidth":1},"encoding":{"x2":{"field":"u2"},"y2":{"field":"v2"}}},
 {"data":{"values":[
  {"u":125,"v":433,"label":"0.018"},{"u":133,"v":505,"label":"0.016"},{"u":143,"v":573,"label":"0.014"},{"u":155,"v":638,"label":"0.012"},{"u":180,"v":703,"label":"−1.0"},{"u":340,"v":768,"label":"−0.5"},{"u":522,"v":832,"label":"0.0"},{"u":702,"v":902,"label":"0.5"},{"u":892,"v":973,"label":"1.0"},{"u":988,"v":945,"label":"0.0"},{"u":1075,"v":812,"label":"0.5"},{"u":1152,"v":697,"label":"1.0"},{"u":1220,"v":590,"label":"1.5"},{"u":1283,"v":492,"label":"2.0"},{"u":498,"v":873,"label":"x"},{"u":1178,"v":718,"label":"t"},{"u":75,"v":465,"label":"|£ (x,t)|"}
 ]},"mark":{"type":"text","font":"Liberation Sans","fontSize":14.4,"fontWeight":"bold","color":"#111"},"encoding":{"text":{"field":"label"}}},
 {"data":{"values":[{"u":452,"v":1080,"text":"(c)"}]},"mark":{"type":"text","align":"left","font":"DejaVu Serif","fontSize":17.5,"color":"#222"},"encoding":{"text":{"field":"text"}}},
 {"data":{"values":[{"u":548,"v":1080,"text":"3-D graph"}]},"mark":{"type":"text","align":"left","font":"DejaVu Serif","fontSize":17.5,"color":"#f01020"},"encoding":{"text":{"field":"text"}}}
 ]},
{"width":414,"height":415,
 "resolve":{"axis":{"x":"independent","y":"independent"}},
 "encoding":{"x":{"field":"x","type":"quantitative","scale":{"domain":[-1.043,1.04],"nice":false,"zero":false},"axis":null},"y":{"field":"t","type":"quantitative","scale":{"domain":[-0.042,2.04],"nice":false,"zero":false},"axis":null}},
 "layer":[
 {"data":{"values":[]},"mark":"line","encoding":{
  "x":{"field":"x","type":"quantitative","scale":{"domain":[-1.043,1.04],"nice":false,"zero":false},"axis":{"orient":"bottom","title":null,"labelPadding":6,"labelFontWeight":"normal","labelColor":"#666","values":[-1,-0.9,-0.8,-0.7,-0.6,-0.5,-0.4,-0.3,-0.2,-0.1,0,0.1,0.2,0.3,0.4,0.5,0.6,0.7,0.8,0.9,1],"labelExpr":"abs(datum.value*2-round(datum.value*2))<1e-6 ? format(datum.value,'.1f') : ''","tickSize":-3}},
  "y":{"field":"t","type":"quantitative","scale":{"domain":[-0.042,2.04],"nice":false,"zero":false},"axis":{"orient":"left","title":null,"labelPadding":6,"labelFontWeight":"normal","labelColor":"#666","values":[0,0.1,0.2,0.3,0.4,0.5,0.6,0.7,0.8,0.9,1,1.1,1.2,1.3,1.4,1.5,1.6,1.7,1.8,1.9,2],"labelExpr":"abs(datum.value*2-round(datum.value*2))<1e-6 ? format(datum.value,'.1f') : ''","tickSize":-3}}}},
 {"data":{"values":[]},"mark":"line","encoding":{
  "x":{"field":"x","type":"quantitative","scale":{"domain":[-1.043,1.04],"nice":false,"zero":false},"axis":{"orient":"top","title":null,"labels":false,"values":[-1,-0.9,-0.8,-0.7,-0.6,-0.5,-0.4,-0.3,-0.2,-0.1,0,0.1,0.2,0.3,0.4,0.5,0.6,0.7,0.8,0.9,1],"tickSize":-3}},
  "y":{"field":"t","type":"quantitative","scale":{"domain":[-0.042,2.04],"nice":false,"zero":false},"axis":{"orient":"right","title":null,"labels":false,"values":[0,0.1,0.2,0.3,0.4,0.5,0.6,0.7,0.8,0.9,1,1.1,1.2,1.3,1.4,1.5,1.6,1.7,1.8,1.9,2],"tickSize":-3}}}},
 {"data":{"values":[{"x":-1,"t":0,"x2":1,"t2":2}]},"mark":{"type":"rect","color":"#ff0000"},"encoding":{"x2":{"field":"x2"},"y2":{"field":"t2"}}},
 {"data":{"name":"bands","values":[
  {"c":"L6","band":"purple","base":0,"x":-1,"t":1.273},{"c":"L6","band":"purple","base":0,"x":-0.72,"t":1.206},{"c":"L6","band":"purple","base":0,"x":-0.469,"t":1.089},{"c":"L6","band":"purple","base":0,"x":-0.217,"t":0.921},{"c":"L6","band":"purple","base":0,"x":-0.066,"t":0.812},{"c":"L6","band":"purple","base":0,"x":0.001,"t":0.704},{"c":"L6","band":"purple","base":0,"x":0.034,"t":0.603},{"c":"L6","band":"purple","base":0,"x":0.118,"t":0.436},{"c":"L6","band":"purple","base":0,"x":0.252,"t":0.235},{"c":"L6","band":"purple","base":0,"x":0.42,"t":0.084},{"c":"L6","band":"purple","base":0,"x":0.579,"t":0},
  {"c":"L5","band":"blue","base":0,"x":-1,"t":0.888},{"c":"L5","band":"blue","base":0,"x":-0.804,"t":0.796},{"c":"L5","band":"blue","base":0,"x":-0.552,"t":0.653},{"c":"L5","band":"blue","base":0,"x":-0.284,"t":0.427},{"c":"L5","band":"blue","base":0,"x":-0.083,"t":0.285},{"c":"L5","band":"blue","base":0,"x":-0.016,"t":0.209},{"c":"L5","band":"blue","base":0,"x":0.026,"t":0.134},{"c":"L5","band":"blue","base":0,"x":0.085,"t":0.067},{"c":"L5","band":"blue","base":0,"x":0.177,"t":0},
  {"c":"L4","band":"cyan","base":0,"x":-1,"t":0.603},{"c":"L4","band":"cyan","base":0,"x":-0.72,"t":0.486},{"c":"L4","band":"cyan","base":0,"x":-0.469,"t":0.335},{"c":"L4","band":"cyan","base":0,"x":-0.267,"t":0.176},{"c":"L4","band":"cyan","base":0,"x":-0.083,"t":0.042},{"c":"L4","band":"cyan","base":0,"x":0.001,"t":0},
  {"c":"L3","band":"green","base":0,"x":-1,"t":0.38},{"c":"L3","band":"green","base":0,"x":-0.804,"t":0.302},{"c":"L3","band":"green","base":0,"x":-0.552,"t":0.184},{"c":"L3","band":"green","base":0,"x":-0.351,"t":0.075},{"c":"L3","band":"green","base":0,"x":-0.158,"t":0},
  {"c":"L2","band":"lime","base":0,"x":-1,"t":0.201},{"c":"L2","band":"lime","base":0,"x":-0.804,"t":0.126},{"c":"L2","band":"lime","base":0,"x":-0.636,"t":0.075},{"c":"L2","band":"lime","base":0,"x":-0.485,"t":0.037},{"c":"L2","band":"lime","base":0,"x":-0.393,"t":0},
  {"c":"L1","band":"orange","base":0,"x":-1,"t":0.062},{"c":"L1","band":"orange","base":0,"x":-0.904,"t":0.044},{"c":"L1","band":"orange","base":0,"x":-0.804,"t":0.025},{"c":"L1","band":"orange","base":0,"x":-0.69,"t":0},
  {"c":"L7","band":"purple","base":2,"x":-0.197,"t":2},{"c":"L7","band":"purple","base":2,"x":-0.117,"t":1.859},{"c":"L7","band":"purple","base":2,"x":-0.041,"t":1.658},{"c":"L7","band":"purple","base":2,"x":0.009,"t":1.524},{"c":"L7","band":"purple","base":2,"x":0.051,"t":1.39},{"c":"L7","band":"purple","base":2,"x":0.152,"t":1.189},{"c":"L7","band":"purple","base":2,"x":0.286,"t":0.955},{"c":"L7","band":"purple","base":2,"x":0.453,"t":0.704},{"c":"L7","band":"purple","base":2,"x":0.671,"t":0.436},{"c":"L7","band":"purple","base":2,"x":1,"t":0.201},
  {"c":"L8","band":"blue","base":2,"x":0.08,"t":2},{"c":"L8","band":"blue","base":2,"x":0.219,"t":1.776},{"c":"L8","band":"blue","base":2,"x":0.386,"t":1.508},{"c":"L8","band":"blue","base":2,"x":0.588,"t":1.206},{"c":"L8","band":"blue","base":2,"x":0.789,"t":0.938},{"c":"L8","band":"blue","base":2,"x":1,"t":0.678},
  {"c":"L9","band":"cyan","base":2,"x":0.286,"t":2},{"c":"L9","band":"cyan","base":2,"x":0.42,"t":1.792},{"c":"L9","band":"cyan","base":2,"x":0.588,"t":1.558},{"c":"L9","band":"cyan","base":2,"x":0.789,"t":1.29},{"c":"L9","band":"cyan","base":2,"x":1,"t":1.01},
  {"c":"L10","band":"green","base":2,"x":0.479,"t":2},{"c":"L10","band":"green","base":2,"x":0.621,"t":1.792},{"c":"L10","band":"green","base":2,"x":0.789,"t":1.558},{"c":"L10","band":"green","base":2,"x":1,"t":1.286},
  {"c":"L11","band":"lime","base":2,"x":0.655,"t":2},{"c":"L11","band":"lime","base":2,"x":0.789,"t":1.809},{"c":"L11","band":"lime","base":2,"x":0.889,"t":1.675},{"c":"L11","band":"lime","base":2,"x":1,"t":1.533},
  {"c":"L12","band":"orange","base":2,"x":0.826,"t":2},{"c":"L12","band":"orange","base":2,"x":0.906,"t":1.893},{"c":"L12","band":"orange","base":2,"x":1,"t":1.759},
  {"c":"L13","band":"red","base":2,"x":0.977,"t":2},{"c":"L13","band":"red","base":2,"x":1,"t":1.968}
 ]},"layer":[
  {"mark":{"type":"area","interpolate":"monotone"},"encoding":{"y":{"field":"t","type":"quantitative","stack":null,"scale":{"domain":[-0.042,2.04],"nice":false,"zero":false},"axis":null},"y2":{"field":"base"},"detail":{"field":"c"},"color":{"field":"band","type":"nominal","legend":null,"scale":{"domain":["red","purple","blue","cyan","green","lime","orange"],"range":["#ff0000","#e000ff","#0000ff","#00f0ff","#00ff00","#55ff00","#ff8000"]}}}},
  {"mark":{"type":"line","interpolate":"monotone","stroke":"#202020","strokeWidth":0.7,"strokeOpacity":0.8},"encoding":{"detail":{"field":"c"}}}
 ]},
 {"data":{"values":[{"x":-0.749,"t":-0.28,"text":"(d)"}]},"mark":{"type":"text","align":"left","font":"DejaVu Serif","fontSize":17.5,"color":"#222"},"encoding":{"text":{"field":"text"}}},
 {"data":{"values":[{"x":-0.574,"t":-0.28,"text":"Contour graph for α = 0.8."}]},"mark":{"type":"text","align":"left","font":"DejaVu Serif","fontSize":17.5,"color":"#f01020"},"encoding":{"text":{"field":"text"}}}
 ]}
],"spacing":65,"bounds":"flush",
 "resolve":{"scale":{"color":"independent","stroke":"independent","fill":"independent"},"legend":{"color":"independent","stroke":"independent","fill":"independent"}}}
]
}
